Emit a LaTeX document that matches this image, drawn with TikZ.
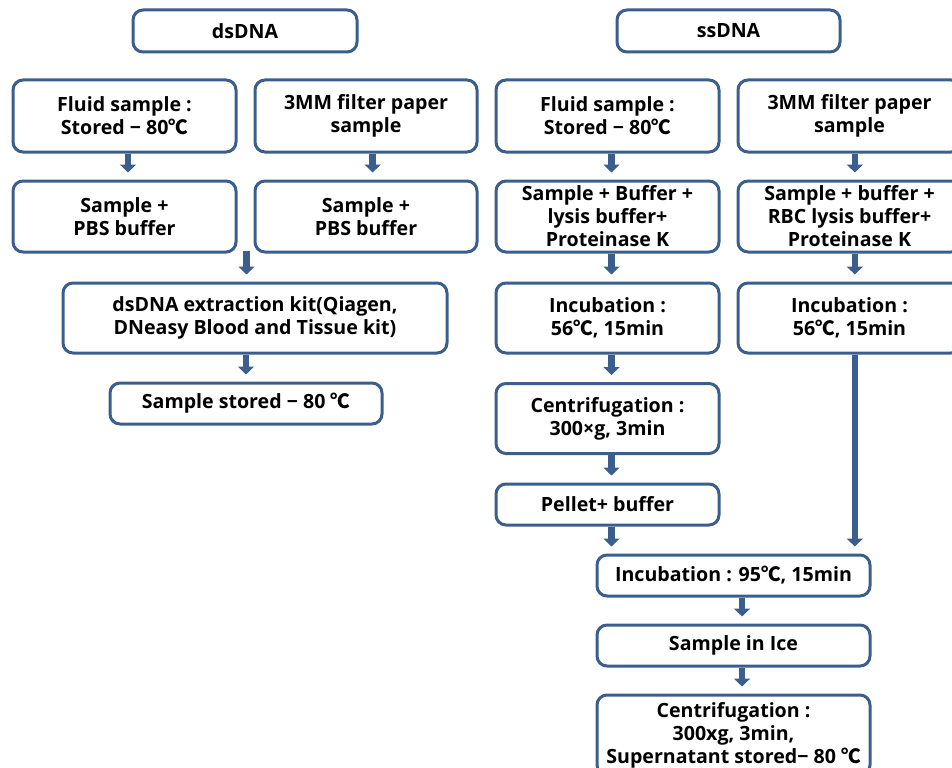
\documentclass[tikz,border=0pt]{standalone}
\usepackage{fontspec}
\setmainfont{Open Sans}
\newfontfamily\cjk{Noto Sans CJK KR}
\usetikzlibrary{arrows.meta}
\definecolor{boxblue}{RGB}{59,94,140}
\newcommand{\degc}{{\cjk ℃}}
\tikzset{every picture/.style={line width=0.75pt},
  stepbox/.style={draw=boxblue, line width=2.25pt, rounded corners=7.5pt, fill=white, align=center, inner sep=0pt, font=\bfseries\fontsize{14.7}{17.3}\selectfont},
  boxsize/.style 2 args={minimum width=#1*0.75pt, minimum height=#2*0.75pt},
  flow/.style={draw=boxblue, line width=4.9pt, -{Triangle[width=12pt,length=6pt]}, shorten >=5.25pt}}
\begin{document}
\begin{tikzpicture}[x=0.75pt,y=0.75pt,yscale=-1,xscale=1]
\useasboundingbox (0,0) rectangle (952,767);

%Rounded Rect: headers
\node[stepbox, boxsize={224}{42}] (dsdna) at (245,31) {dsDNA};
\node[stepbox, boxsize={223}{42}] (ssdna) at (728.5,31) {ssDNA};

%Rounded Rect: dsDNA branch
\node[stepbox, boxsize={223}{72}] (fluidL) at (124.5,116) {Fluid sample :\\ Stored − 80\degc};
\node[stepbox, boxsize={222}{72}] (paperL) at (366,116) {3MM filter paper\\ sample};
\node[stepbox, boxsize={223}{71}] (pbsL) at (124.5,216.5) {Sample +\\ PBS buffer};
\node[stepbox, boxsize={222}{71}] (pbsR) at (366,216.5) {Sample +\\ PBS buffer};
\node[stepbox, boxsize={384}{70}] (kit) at (255,318) {dsDNA extraction kit(Qiagen,\\ DNeasy Blood and Tissue kit)};
\node[stepbox, boxsize={272}{41}] (storedL) at (246,403.5) {Sample stored − 80 \degc};

%Rounded Rect: ssDNA branch
\node[stepbox, boxsize={223}{72}] (fluidR) at (607.5,116) {Fluid sample :\\ Stored − 80\degc};
\node[stepbox, boxsize={223}{72}] (paperR) at (849.5,116) {3MM filter paper\\ sample};
\node[stepbox, boxsize={223}{71}] (lysisA) at (607.5,216.5) {Sample + Buffer +\\ lysis buffer+\\ Proteinase K};
\node[stepbox, boxsize={223}{71}] (lysisB) at (849.5,216.5) {Sample + buffer +\\ RBC lysis buffer+\\ Proteinase K};
\node[stepbox, boxsize={223}{70}] (incA) at (607.5,318) {Incubation :\\ 56\degc, 15min};
\node[stepbox, boxsize={223}{70}] (incB) at (849.5,318) {Incubation :\\ 56\degc, 15min};
\node[stepbox, boxsize={223}{70}] (centA) at (607.5,418.5) {Centrifugation :\\ 300×g, 3min};
\node[stepbox, boxsize={223}{41}] (pellet) at (607.5,504.5) {Pellet+ buffer};
\node[stepbox, boxsize={273}{41}] (inc95) at (733.5,575.5) {Incubation : 95\degc, 15min};
\node[stepbox, boxsize={273}{41}] (ice) at (733.5,645.5) {Sample in Ice};
\node[stepbox, boxsize={273}{80}] (centB) at (733.5,735) {Centrifugation :\\ 300xg, 3min,\\ Supernatant stored− 80 \degc};

%Straight Lines: dsDNA branch
\draw[flow] ([xshift=2.6pt]fluidL.south) -- ([xshift=2.6pt]pbsL.north);
\draw[flow] ([xshift=5pt]paperL.south) -- ([xshift=5pt]pbsR.north);
\coordinate (join) at (246.5,251);
\draw[flow] (join) -- (join |- kit.north);
\draw[flow] (storedL.north |- kit.south) -- (storedL.north);

%Straight Lines: ssDNA branch
\draw[flow] ([xshift=3pt]fluidR.south) -- ([xshift=3pt]lysisA.north);
\draw[flow] ([xshift=4pt]paperR.south) -- ([xshift=4pt]lysisB.north);
\draw[flow] ([xshift=3pt]lysisA.south) -- ([xshift=3pt]incA.north);
\draw[flow] ([xshift=4pt]lysisB.south) -- ([xshift=4pt]incB.north);
\draw[flow] ([xshift=3pt]incA.south) -- ([xshift=3pt]centA.north);
\draw[flow] ([xshift=3pt]centA.south) -- ([xshift=3pt]pellet.north);
\draw[flow] ([xshift=3pt]pellet.south) -- ([xshift=3pt]pellet.south |- inc95.north);
\draw[flow] ([xshift=4pt]incB.south) -- ([xshift=4pt]incB.south |- inc95.north);
\draw[flow] ([xshift=6.4pt]inc95.south) -- ([xshift=6.4pt]ice.north);
\draw[flow] ([xshift=6.4pt]ice.south) -- ([xshift=6.4pt]centB.north);

\end{tikzpicture}
\end{document}
